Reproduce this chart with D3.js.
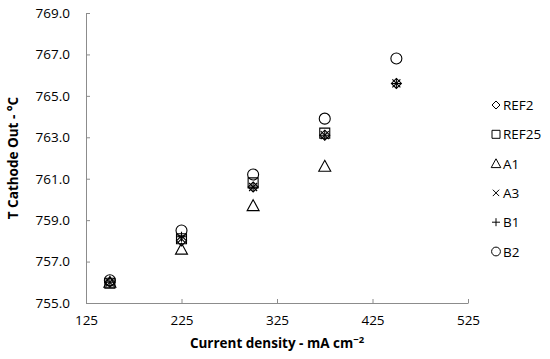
<!DOCTYPE html>
<html>
<head>
<meta charset="utf-8">
<script src="https://cdn.jsdelivr.net/npm/d3@7"></script>
<style>
  body { margin: 0; background: #fff; }
  text { font-family: "Open Sans", sans-serif; }
</style>
</head>
<body>
<div id="chart"></div>
<script>
// data
var densities = [150, 225, 300, 375, 450];
var seriesNames = ["REF2", "REF25", "A1", "A3", "B1", "B2"];
var ref2  = [756.0, 758.0, 760.6, 763.1, 765.6];
var ref25 = [755.95, 758.1, 760.8, 763.2, null];
var a1    = [756.0, 757.6, 759.7, 761.6, null];
var a3    = [756.0, 758.1, 760.6, 763.1, 765.6];
var b1    = [756.0, 758.2, 760.6, 763.1, 765.6];
var b2    = [756.1, 758.5, 761.2, 763.9, 766.8];
var xTicks = [125, 225, 325, 425, 525];
var yTicks = [755, 757, 759, 761, 763, 765, 767, 769];

var allSeries = [ref2, ref25, a1, a3, b1, b2];
var shapes = ["diamond", "square", "triangle", "cross", "plus", "circle"];

var W = 550, H = 359;
var margin = {top: 13, right: 82, bottom: 56, left: 86},
  width = W - margin.left - margin.right,
  height = H - margin.top - margin.bottom;

var svg = d3.select("#chart")
.append("svg")
  .attr("width", W)
  .attr("height", H)
.append("g")
  .attr("transform", "translate(" + margin.left + "," + margin.top + ")");

var x = d3.scaleLinear().domain([125, 525]).range([0, width]);
var y = d3.scaleLinear().domain([755, 769]).range([height, 0]);

// axes, ticks pointing inward like Excel
var xAxis = svg.append("g")
  .attr("transform", "translate(0," + height + ")")
  .call(d3.axisBottom(x).tickValues(xTicks).tickSizeInner(-4).tickSizeOuter(0).tickPadding(12));
var yAxis = svg.append("g")
  .call(d3.axisLeft(y).tickValues(yTicks).tickSizeInner(-4).tickSizeOuter(0).tickPadding(16)
    .tickFormat(d3.format(".1f")));

[xAxis, yAxis].forEach(function(g) {
  g.select(".domain").attr("stroke", "#8c8c8c");
  g.selectAll(".tick line").attr("stroke", "#8c8c8c");
  g.selectAll(".tick text")
    .style("font-size", "13.5px")
    .style("font-family", "Open Sans, sans-serif")
    .attr("fill", "#000");
});

// marker shapes
function markerPath(shape, s) {
  s = s || 1;
  var p = d3.path();
  if (shape === "diamond") {
    p.moveTo(0, -5 * s); p.lineTo(5 * s, 0); p.lineTo(0, 5 * s); p.lineTo(-5 * s, 0); p.closePath();
  } else if (shape === "square") {
    p.rect(-5 * s, -5 * s, 10 * s, 10 * s);
  } else if (shape === "triangle") {
    p.moveTo(0, -6 * s); p.lineTo(6 * s, 5 * s); p.lineTo(-6 * s, 5 * s); p.closePath();
  } else if (shape === "cross") {
    p.moveTo(-4 * s, -4 * s); p.lineTo(4 * s, 4 * s); p.moveTo(4 * s, -4 * s); p.lineTo(-4 * s, 4 * s);
  } else if (shape === "plus") {
    p.moveTo(-5 * s, 0); p.lineTo(5 * s, 0); p.moveTo(0, -5 * s); p.lineTo(0, 5 * s);
  } else {
    p.arc(0, 0, 5.5 * s, 0, 2 * Math.PI);
  }
  return p.toString();
}

allSeries.forEach(function(vals, i) {
  var pts = densities.map(function(d, j) { return {x: d, y: vals[j]}; })
    .filter(function(d) { return d.y != null; });
  svg.append("g").selectAll("path")
    .data(pts)
    .enter()
    .append("path")
      .attr("d", markerPath(shapes[i]))
      .attr("transform", function(d) { return "translate(" + x(d.x) + "," + y(d.y) + ")"; })
      .attr("fill", "none")
      .attr("stroke", "#000")
      .attr("stroke-width", 1.1);
});

// legend
var legend = svg.append("g")
  .attr("transform", "translate(" + (width + 28) + ",92)");
seriesNames.forEach(function(name, i) {
  var row = legend.append("g").attr("transform", "translate(0," + (i * 29.3) + ")");
  row.append("path")
    .attr("d", markerPath(shapes[i], 0.8))
    .attr("fill", "none")
    .attr("stroke", "#000")
    .attr("stroke-width", 1);
  row.append("text")
    .attr("x", 7)
    .attr("y", 5)
    .style("font-size", "13.5px")
    .text(name);
});

// axis titles
svg.append("text")
  .attr("x", width / 2)
  .attr("y", height + 45)
  .attr("text-anchor", "middle")
  .style("font-size", "13.5px")
  .style("font-weight", "bold")
  .html("Current density - mA cm<tspan dy='-5' font-size='9.5px'>\u22122</tspan>");

svg.append("text")
  .attr("transform", "translate(-68," + (height / 2) + ") rotate(-90)")
  .attr("text-anchor", "middle")
  .style("font-size", "13.5px")
  .style("font-weight", "bold")
  .text("T Cathode Out - \u00b0C");
</script>
</body>
</html>
